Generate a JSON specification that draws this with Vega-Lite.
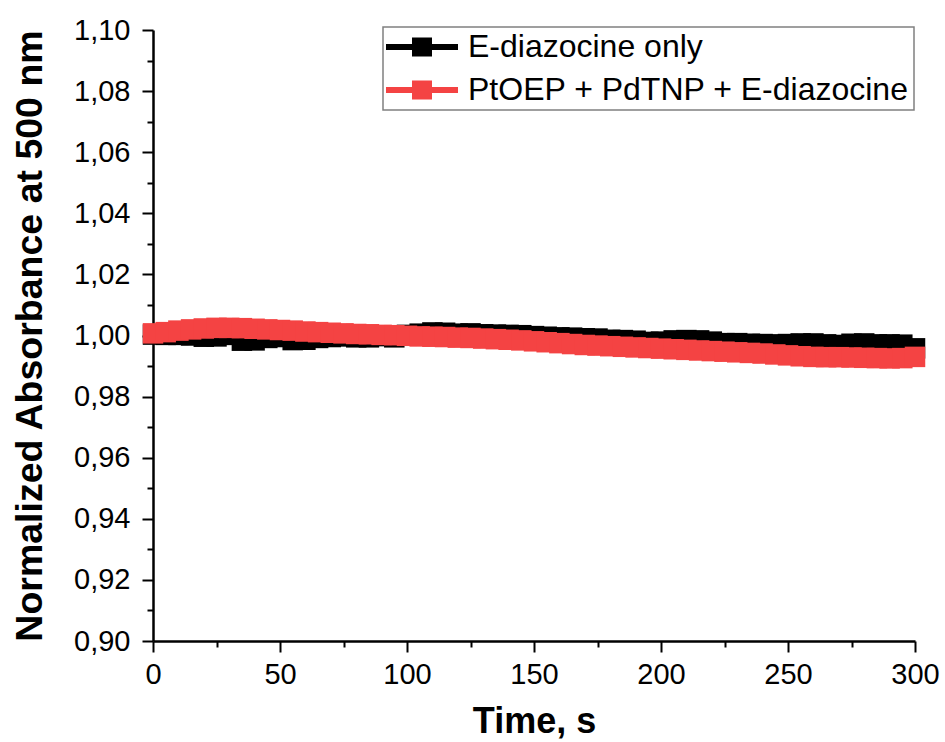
{
  "$schema": "https://vega.github.io/schema/vega-lite/v6.json",
  "width": 762,
  "height": 611,
  "autosize": {"type": "none"},
  "padding": {"left": 153, "top": 30, "right": 30, "bottom": 101},
  "background": "white",
  "config": {
    "view": {"stroke": null},
    "font": "Liberation Sans"
  },
  "datasets": {
    "black": [
      {"t":0,"v":1.0003},{"t":5,"v":1.0002},{"t":10,"v":1.0002},{"t":15,"v":1.0000},{"t":20,"v":0.9996},{"t":25,"v":0.9997},{"t":30,"v":1.0002},{"t":35,"v":0.9983},{"t":40,"v":0.9984},{"t":45,"v":0.9992},{"t":50,"v":0.9995},{"t":55,"v":0.9985},{"t":60,"v":0.9986},{"t":65,"v":0.9992},{"t":70,"v":0.9995},{"t":75,"v":0.9997},{"t":80,"v":0.9994},{"t":85,"v":0.9994},{"t":90,"v":0.9998},{"t":95,"v":0.9994},{"t":100,"v":1.0002},{"t":105,"v":1.0006},{"t":110,"v":1.0010},{"t":115,"v":1.0009},{"t":120,"v":1.0006},{"t":125,"v":1.0007},{"t":130,"v":1.0004},{"t":135,"v":1.0003},{"t":140,"v":1.0002},{"t":145,"v":1.0001},{"t":150,"v":0.9998},{"t":155,"v":0.9996},{"t":160,"v":0.9994},{"t":165,"v":0.9993},{"t":170,"v":0.9991},{"t":175,"v":0.9990},{"t":180,"v":0.9986},{"t":185,"v":0.9985},{"t":190,"v":0.9983},{"t":195,"v":0.9979},{"t":200,"v":0.9980},{"t":205,"v":0.9984},{"t":210,"v":0.9985},{"t":215,"v":0.9984},{"t":220,"v":0.9980},{"t":225,"v":0.9975},{"t":230,"v":0.9975},{"t":235,"v":0.9973},{"t":240,"v":0.9972},{"t":245,"v":0.9971},{"t":250,"v":0.9972},{"t":255,"v":0.9974},{"t":260,"v":0.9974},{"t":265,"v":0.9971},{"t":270,"v":0.9969},{"t":275,"v":0.9973},{"t":280,"v":0.9974},{"t":285,"v":0.9971},{"t":290,"v":0.9971},{"t":295,"v":0.9970},{"t":300,"v":0.9958}
    ],
    "red": [
      {"t":0,"v":1.0007},{"t":5,"v":1.0011},{"t":10,"v":1.0016},{"t":15,"v":1.0020},{"t":20,"v":1.0023},{"t":25,"v":1.0025},{"t":30,"v":1.0025},{"t":35,"v":1.0024},{"t":40,"v":1.0022},{"t":45,"v":1.0020},{"t":50,"v":1.0018},{"t":55,"v":1.0016},{"t":60,"v":1.0013},{"t":65,"v":1.0011},{"t":70,"v":1.0009},{"t":75,"v":1.0007},{"t":80,"v":1.0005},{"t":85,"v":1.0004},{"t":90,"v":1.0002},{"t":95,"v":1.0001},{"t":100,"v":0.9999},{"t":105,"v":0.9997},{"t":110,"v":0.9996},{"t":115,"v":0.9995},{"t":120,"v":0.9993},{"t":125,"v":0.9992},{"t":130,"v":0.9990},{"t":135,"v":0.9988},{"t":140,"v":0.9986},{"t":145,"v":0.9984},{"t":150,"v":0.9981},{"t":155,"v":0.9978},{"t":160,"v":0.9975},{"t":165,"v":0.9972},{"t":170,"v":0.9969},{"t":175,"v":0.9967},{"t":180,"v":0.9965},{"t":185,"v":0.9963},{"t":190,"v":0.9961},{"t":195,"v":0.9959},{"t":200,"v":0.9957},{"t":205,"v":0.9955},{"t":210,"v":0.9953},{"t":215,"v":0.9951},{"t":220,"v":0.9949},{"t":225,"v":0.9947},{"t":230,"v":0.9945},{"t":235,"v":0.9943},{"t":240,"v":0.9941},{"t":245,"v":0.9938},{"t":250,"v":0.9935},{"t":255,"v":0.9932},{"t":260,"v":0.9930},{"t":265,"v":0.9929},{"t":270,"v":0.9929},{"t":275,"v":0.9928},{"t":280,"v":0.9927},{"t":285,"v":0.9926},{"t":290,"v":0.9925},{"t":295,"v":0.9926},{"t":300,"v":0.9930}
    ]
  },
  "layer": [
    {
      "data": {"name": "black"},
      "transform": [{"calculate": "'E-diazocine only'", "as": "s"}],
      "mark": {"type": "point", "shape": "square", "filled": true, "opacity": 1, "size": 420, "strokeWidth": 0},
      "encoding": {
        "x": {"field": "t", "type": "quantitative"},
        "y": {"field": "v", "type": "quantitative"},
        "color": {"field": "s", "type": "nominal"}
      }
    },
    {
      "data": {"name": "red"},
      "transform": [{"calculate": "'PtOEP + PdTNP + E-diazocine'", "as": "s"}],
      "mark": {"type": "point", "shape": "square", "filled": true, "opacity": 1, "size": 420, "strokeWidth": 0},
      "encoding": {
        "x": {"field": "t", "type": "quantitative"},
        "y": {"field": "v", "type": "quantitative"},
        "color": {"field": "s", "type": "nominal"}
      }
    }
  ],
  "encoding": {
    "x": {
      "field": "t", "type": "quantitative",
      "scale": {"domain": [0, 300], "nice": false},
      "axis": {
        "title": "Time, s",
        "values": [0,25,50,75,100,125,150,175,200,225,250,275,300],
        "labelExpr": "datum.value % 50 === 0 ? datum.label : ''",
        "tickSize": {"condition": {"test": "datum.value % 50 === 0", "value": 11}, "value": 6},
        "grid": false,
        "domainColor": "black", "domainWidth": 2.5,
        "tickColor": "black", "tickWidth": 2,
        "labelFontSize": 29, "labelColor": "black", "labelPadding": 8, "labelFlush": false,
        "titleFontSize": 36, "titleFontWeight": "bold", "titleColor": "black", "titlePadding": 15
      }
    },
    "y": {
      "field": "v", "type": "quantitative",
      "scale": {"domain": [0.9, 1.1], "nice": false, "zero": false},
      "axis": {
        "title": "Normalized Absorbance at 500 nm",
        "values": [0.90,0.91,0.92,0.93,0.94,0.95,0.96,0.97,0.98,0.99,1.00,1.01,1.02,1.03,1.04,1.05,1.06,1.07,1.08,1.09,1.10],
        "labelExpr": "round(datum.value*100) % 2 === 0 ? replace(format(datum.value, '.2f'), '.', ',') : ''",
        "tickSize": {"condition": {"test": "round(datum.value*100) % 2 === 0", "value": 11}, "value": 6},
        "grid": false,
        "domainColor": "black", "domainWidth": 2.5,
        "tickColor": "black", "tickWidth": 2,
        "labelFontSize": 29, "labelColor": "black", "labelPadding": 12, "labelFlush": false,
        "titleFontSize": 37.5, "titleFontWeight": "bold", "titleColor": "black", "titlePadding": 24
      }
    },
    "color": {
      "field": "s", "type": "nominal",
      "scale": {"domain": ["E-diazocine only", "PtOEP + PdTNP + E-diazocine"], "range": ["#000000", "#f44343"]},
      "legend": {
        "title": null,
        "orient": "none",
        "legendX": 230,
        "legendY": -3,
        "strokeColor": "#808080",
        "fillColor": "white",
        "padding": 4,
        "symbolType": "M-3.6,-0.3H3.6V0.3H-3.6Z M-1,-0.95H1V0.95H-1Z",
        "symbolSize": 400,
        "symbolOffset": 19,
        "symbolStrokeWidth": 0,
        "symbolOpacity": 1,
        "labelFontSize": 32,
        "labelColor": "black",
        "labelOffset": 30,
        "rowPadding": 11,
        "labelLimit": 700,
        "encode": {"legend": {"update": {"strokeWidth": {"value": 1.5}}}}
      }
    }
  }
}
